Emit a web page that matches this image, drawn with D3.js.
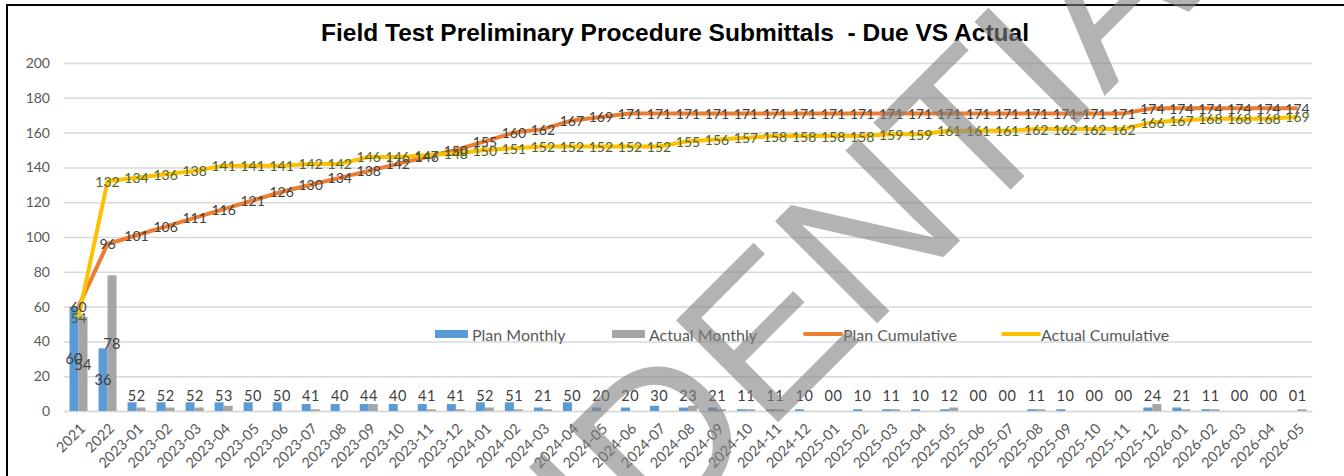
<!DOCTYPE html>
<html><head><meta charset="utf-8">
<script src="https://cdn.jsdelivr.net/npm/d3@7"></script>
<style>body{margin:0;background:#fff;} svg{display:block}</style>
</head><body><svg id="c" width="1344" height="476"></svg>
<script>
const categories = ["2021","2022",
 "2023-01","2023-02","2023-03","2023-04","2023-05","2023-06","2023-07","2023-08","2023-09","2023-10","2023-11","2023-12",
 "2024-01","2024-02","2024-03","2024-04","2024-05","2024-06","2024-07","2024-08","2024-09","2024-10","2024-11","2024-12",
 "2025-01","2025-02","2025-03","2025-04","2025-05","2025-06","2025-07","2025-08","2025-09","2025-10","2025-11","2025-12",
 "2026-01","2026-02","2026-03","2026-04","2026-05"];
const planMonthly = [60,36, 5,5,5,5,5,5,4,4,4,4,4,4, 5,5,2,5,2,2,3,2,2,1,1,1, 0,1,1,1,1,0,0,1,1,0,0,2, 2,1,0,0,0];
const actualMonthly = [54,78, 2,2,2,3,0,0,1,0,4,0,1,1, 2,1,1,0,0,0,0,3,1,1,1,0, 0,0,1,0,2,0,0,1,0,0,0,4, 1,1,0,0,1];
const planCumulative = [60,96, 101,106,111,116,121,126,130,134,138,142,146,150, 155,160,162,167,169,171,171,171,171,171,171,171,
 171,171,171,171,171,171,171,171,171,171,171,174, 174,174,174,174,174];
const actualCumulative = [54,132, 134,136,138,141,141,141,142,142,146,146,147,148, 150,151,152,152,152,152,152,155,156,157,158,158,
 158,158,159,159,161,161,161,162,162,162,162,166, 167,168,168,168,169];
const yTicks = [0,20,40,60,80,100,120,140,160,180,200];
const titleText = "Field Test Preliminary Procedure Submittals  - Due VS Actual";
const seriesNames = ["Plan Monthly","Actual Monthly","Plan Cumulative","Actual Cumulative"];
const watermarkText = "CONFIDENTIAL";

const C = {plan:"#5b9bd5", actual:"#a5a5a5", planCum:"#ed7d31", actualCum:"#ffc000"};
const svg = d3.select("#c");
const FONT = "Lato, 'Open Sans', sans-serif";

// chart frame
svg.append("rect").attr("x",7).attr("y",5).attr("width",1400).attr("height",500)
  .attr("fill","#fff").attr("stroke","#000").attr("stroke-width",2);

const x = d3.scaleBand().domain(categories).range([64,1312]).paddingInner(0.38).paddingOuter(0.19);
const xs = d3.scaleBand().domain(["plan","actual"]).range([0,x.bandwidth()]);
const y = d3.scaleLinear().domain([0,200]).range([411,63]);
const cx = c => x(c) + x.bandwidth()/2;

// grid
const yAxis = d3.axisLeft(y).tickValues(yTicks).tickSize(-(1312-64)).tickPadding(14);
const gy = svg.append("g").attr("transform","translate(64,0)").call(yAxis);
gy.select(".domain").remove();
gy.selectAll(".tick line").attr("stroke","#d9d9d9").attr("stroke-width",1.5);
gy.selectAll(".tick text").attr("fill","#595959").attr("font-family",FONT).attr("font-size",14);

// x axis
const xAxis = d3.axisBottom(x).tickSize(0).tickPadding(0);
const gx = svg.append("g").attr("transform","translate(0,411)").call(xAxis);
gx.select(".domain").attr("stroke","#d9d9d9").attr("stroke-width",1.5);
gx.selectAll(".tick text").attr("fill","#595959").attr("font-family",FONT).attr("font-size",14.5)
  .attr("text-anchor","end").attr("dy",null).attr("y",0)
  .attr("transform","translate(5,16) rotate(-45)").attr("dominant-baseline","middle");

// bars
const rows = categories.map((c,i)=>({c, plan:planMonthly[i], actual:actualMonthly[i]}));
const bars = svg.append("g");
["plan","actual"].forEach(k=>{
  bars.selectAll("rect."+k).data(rows).join("rect").attr("class",k)
    .attr("x",d=>x(d.c)+xs(k)).attr("width",xs.bandwidth())
    .attr("y",d=>y(d[k])).attr("height",d=>y(0)-y(d[k])).attr("fill",C[k]);
});

// lines
const line = d3.line().x(d=>cx(d.c)).y(d=>y(d.v));
svg.append("path").datum(categories.map((c,i)=>({c,v:planCumulative[i]})))
  .attr("d",line).attr("fill","none").attr("stroke",C.planCum).attr("stroke-width",4).attr("stroke-linejoin","round");
svg.append("path").datum(categories.map((c,i)=>({c,v:actualCumulative[i]})))
  .attr("d",line).attr("fill","none").attr("stroke",C.actualCum).attr("stroke-width",4).attr("stroke-linejoin","round");

// bar labels
const lab = svg.append("g").attr("font-family",FONT).attr("font-size",14.5).attr("text-anchor","middle").attr("dominant-baseline","central");
["plan","actual"].forEach(k=>{
  lab.selectAll("text."+k).data(rows).join("text").attr("class",k)
    .attr("x",d=>x(d.c)+xs(k)+xs.bandwidth()/2)
    .attr("y",d=>Math.min((y(d[k])+y(0))/2, y(0)-16))
    .attr("fill","#404040").text(d=>d[k]);
});
// line labels
lab.selectAll("text.pc").data(categories).join("text").attr("class","pc")
  .attr("x",c=>cx(c)).attr("y",(c,i)=>y(planCumulative[i])).attr("fill","#404040").attr("font-size",14)
  .text((c,i)=>planCumulative[i]);
lab.selectAll("text.ac").data(categories).join("text").attr("class","ac")
  .attr("x",c=>cx(c)).attr("y",(c,i)=>y(actualCumulative[i])).attr("fill","#4f6228").attr("font-size",14)
  .text((c,i)=>actualCumulative[i]);

// legend
const lg = svg.append("g").attr("font-family",FONT).attr("font-size",16).attr("fill","#595959");
const legendX = [435,612,805,1003];
const kinds = ["rect","rect","line","line"];
const cols = [C.plan,C.actual,C.planCum,C.actualCum];
seriesNames.forEach((n,i)=>{
  if(kinds[i]==="rect") lg.append("rect").attr("x",legendX[i]).attr("y",330).attr("width",33).attr("height",8).attr("fill",cols[i]);
  else lg.append("line").attr("x1",legendX[i]).attr("x2",legendX[i]+36).attr("y1",334).attr("y2",334).attr("stroke",cols[i]).attr("stroke-width",4).attr("stroke-linecap","round");
  lg.append("text").attr("x",legendX[i]+(kinds[i]==="rect"?37:38)).attr("y",334).attr("dominant-baseline","central").text(n);
});

// title
svg.append("text").attr("x",675).attr("y",41).attr("text-anchor","middle")
  .attr("font-family","'Liberation Sans', Arial, sans-serif").attr("font-weight","bold").attr("font-size",24.5)
  .style("white-space","pre").attr("fill","#000").text(titleText);

// watermark
svg.append("text").attr("transform","translate(690,408) rotate(-45)")
  .attr("text-anchor","middle").attr("dominant-baseline","central")
  .attr("font-family","'Liberation Sans', Arial, sans-serif").attr("font-size",210)
  .attr("fill","#808080").attr("fill-opacity",0.6).text(watermarkText);
</script></body></html>
